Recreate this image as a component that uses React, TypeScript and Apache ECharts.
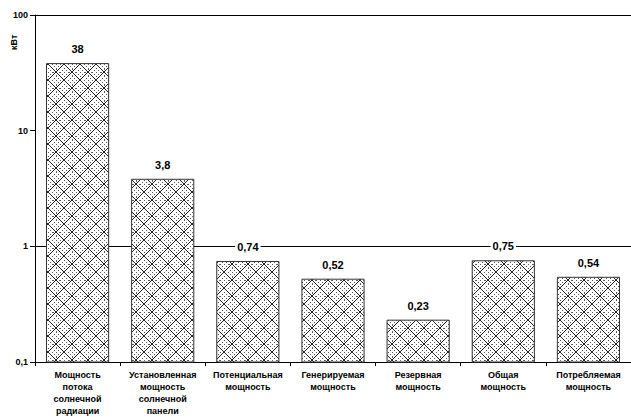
import React, { useEffect, useRef } from "react";
import * as echarts from "echarts";

const categories = [
  "Мощность\nпотока\nсолнечной\nрадиации",
  "Установленная\nмощность\nсолнечной\nпанели",
  "Потенциальная\nмощность",
  "Генерируемая\nмощность",
  "Резервная\nмощность",
  "Общая\nмощность",
  "Потребляемая\nмощность",
];
const values = [38, 3.8, 0.74, 0.52, 0.23, 0.75, 0.54];
const valueLabels = ["38", "3,8", "0,74", "0,52", "0,23", "0,75", "0,54"];
const yTickLabels: Record<string, string> = { "0.1": "0,1", "1": "1", "10": "10", "100": "100" };
const unitName = "кВт";
const axisMin = 0.1;
const axisMax = 100;

function makePattern(): HTMLCanvasElement {
  const s = 16;
  const c = document.createElement("canvas");
  c.width = s;
  c.height = s;
  const ctx = c.getContext("2d")!;
  ctx.fillStyle = "#ffffff";
  ctx.fillRect(0, 0, s, s);
  const px = (x: number, y: number) => {
    const xx = ((x % s) + s) % s;
    const yy = ((y % s) + s) % s;
    ctx.fillRect(xx, yy, 1, 1);
  };
  ctx.fillStyle = "#222";
  for (let i = 0; i < s; i++) {
    px(i, i);
    px(s - 1 - i, i);
  }
  ctx.fillStyle = "#555";
  const diamond = (cx: number, cy: number, r: number) => {
    for (let k = 0; k <= r; k += 2) {
      px(cx - r + k, cy - k);
      px(cx + r - k, cy - k);
      px(cx - r + k, cy + k);
      px(cx + r - k, cy + k);
    }
  };
  diamond(8, 0, 4);
  diamond(0, 8, 4);
  ctx.fillStyle = "#666";
  const dots = [
    [8, 0], [0, 8], [8, 5], [8, 11], [5, 8], [11, 8],
  ];
  for (const [x, y] of dots) px(x, y);
  return c;
}

export default function App() {
  const ref = useRef<HTMLDivElement>(null);
  useEffect(() => {
    if (!ref.current) return;
    document.body.style.margin = "0";
    const chart = echarts.init(ref.current, undefined, { renderer: "svg" });
    const pattern = makePattern();
    const font = "'Liberation Sans', Arial, sans-serif";
    chart.setOption({
      animation: false,
      backgroundColor: "#ffffff",
      textStyle: { fontFamily: font },
      grid: { left: 35, top: 15, right: -2, bottom: 56, containLabel: false },
      graphic: [
        {
          type: "text",
          x: 9,
          y: 50,
          rotation: Math.PI / 2,
          style: {
            text: unitName,
            fontSize: 9,
            fontWeight: "bold",
            fontFamily: font,
            fill: "#000",
          },
        },
      ],
      xAxis: {
        type: "category",
        data: categories,
        axisLine: { lineStyle: { color: "#000", width: 1 } },
        axisTick: { show: true, length: 4, lineStyle: { color: "#000" } },
        axisLabel: {
          interval: 0,
          fontSize: 9,
          fontWeight: "bold",
          color: "#000",
          lineHeight: 12,
          margin: 7,
          fontFamily: font,
        },
      },
      yAxis: {
        type: "log",
        logBase: 10,
        min: axisMin,
        max: axisMax,
        axisLine: { show: true, lineStyle: { color: "#000", width: 1 } },
        axisTick: { show: true, length: 5, lineStyle: { color: "#000" } },
        minorTick: { show: false },
        axisLabel: {
          fontSize: 9,
          fontWeight: "bold",
          color: "#000",
          margin: 7,
          fontFamily: font,
          formatter: (v: number) => {
            const key = String(Number(v.toPrecision(3)));
            return yTickLabels[key] ?? String(v).replace(".", ",");
          },
        },
        splitLine: {
          show: true,
          lineStyle: { color: ["rgba(0,0,0,0)", "#000", "rgba(0,0,0,0)", "#000"], width: 1 },
        },
      },
      series: [
        {
          type: "custom",
          data: values.map((v, i) => [i, v]),
          encode: { x: 0, y: 1 },
          renderItem: (params: any, api: any) => {
            const idx = params.dataIndex;
            const i = api.value(0);
            const v = api.value(1);
            const top = api.coord([i, v]);
            const bottom = api.coord([i, axisMin]);
            const bw = api.size([1, 1])[0] * 0.73;
            return {
              type: "group",
              children: [
                {
                  type: "rect",
                  shape: {
                    x: top[0] - bw / 2,
                    y: top[1],
                    width: bw,
                    height: bottom[1] - top[1],
                  },
                  style: {
                    fill: { image: pattern, repeat: "repeat" },
                    stroke: "#333",
                    lineWidth: 1,
                  },
                },
                {
                  type: "text",
                  style: {
                    text: valueLabels[idx],
                    x: top[0],
                    y: top[1] - 8,
                    align: "center",
                    verticalAlign: "bottom",
                    fontSize: 11,
                    fontWeight: "bold",
                    fontFamily: font,
                    fill: "#000",
                    backgroundColor: "#fff",
                    padding: [1, 2],
                  },
                },
              ],
            };
          },
        },
      ],
    });
    return () => chart.dispose();
  }, []);
  return <div ref={ref} style={{ width: 631, height: 418 }} />;
}
